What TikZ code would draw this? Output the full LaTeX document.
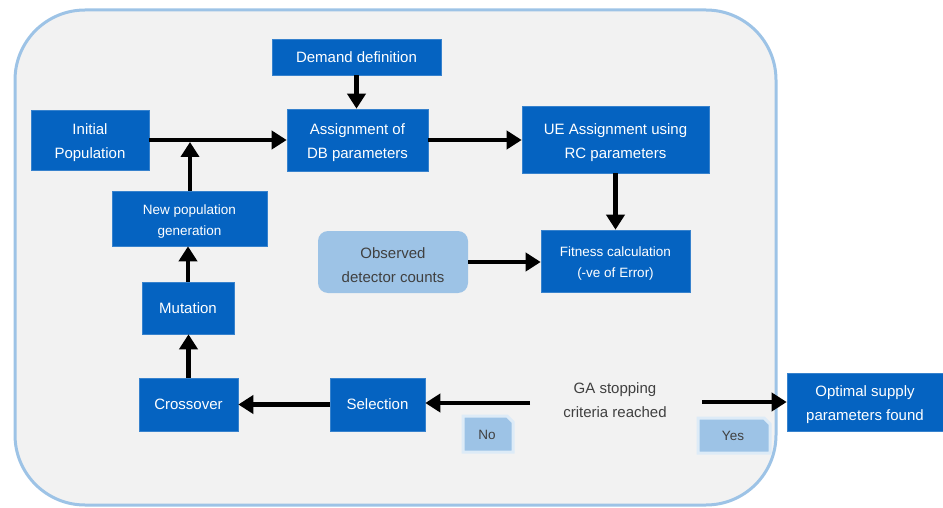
\documentclass[tikz,border=0pt]{standalone}
\usepackage{fontspec}
\setmainfont{Liberation Sans}
\usetikzlibrary{arrows.meta}
\definecolor{dblue}{HTML}{0563C1}
\definecolor{lblue}{HTML}{9DC3E6}
\definecolor{halo}{HTML}{DDEBF7}
\definecolor{bgfill}{HTML}{F2F2F2}
\definecolor{txtgray}{HTML}{404040}
\tikzset{
  x=1pt,y=-1pt,
  box/.style={fill=dblue, draw=dblue!80!white, line width=0.6pt, text=white, inner sep=0pt, align=center,
    font=\fontsize{15}{24}\selectfont},
  smallbox/.style={box, font=\fontsize{13.5}{21}\selectfont},
  lbox/.style={fill=lblue, rounded corners=10pt, text=txtgray, inner sep=0pt, align=center,
    font=\fontsize{15}{24}\selectfont},
  arr/.style={line width=4.5pt, -{Triangle[length=15pt,width=18pt]}},
}
\begin{document}
\begin{tikzpicture}
\useasboundingbox (0,0) rectangle (943,508);
% background container
\draw[fill=bgfill, draw=lblue, line width=3pt, rounded corners=70pt] (15,10) rectangle (776,505);

\node[box, minimum width=169pt, minimum height=36pt] (dem) at (356.5,57) {Demand definition};
\node[box, minimum width=118pt, minimum height=60pt] (init) at (90,140) {\rule{0pt}{17pt}Initial\\Population};
\node[box, minimum width=141pt, minimum height=62pt] (asg) at (357.5,140) {\rule{0pt}{17pt}Assignment of\\DB parameters};
\node[box, minimum width=187pt, minimum height=67pt] (ue) at (615.5,139.5) {\rule{0pt}{17pt}UE Assignment using\\RC parameters};
\node[smallbox, minimum width=155pt, minimum height=55pt] (newp) at (189.5,218.5) {\rule{0pt}{15pt}New population\\generation};
\node[lbox, minimum width=150pt, minimum height=62pt] (obs) at (393,262) {\rule{0pt}{17pt}Observed\\detector counts};
\node[smallbox, minimum width=149pt, minimum height=62pt] (fit) at (615.5,261) {\rule{0pt}{15pt}Fitness calculation\\(-ve of Error)};
\node[box, minimum width=92pt, minimum height=52pt] (mut) at (188,308) {Mutation};
\node[box, minimum width=99pt, minimum height=53pt] (cross) at (188.5,404.5) {Crossover};
\node[box, minimum width=95pt, minimum height=53pt] (sel) at (377.5,404.5) {Selection};
\node[text=txtgray, align=center, font=\fontsize{15}{24}\selectfont, inner sep=0pt] (ga) at (615,400) {GA stopping\\criteria reached};
\node[box, minimum width=156pt, minimum height=58pt] (opt) at (865,402) {\rule{0pt}{17pt}Optimal supply\\parameters found};

% No / Yes tags with snipped corner
\draw[fill=lblue, draw=halo, line width=3pt]
  (463,416) -- (507,416) -- (513,422) -- (513,452) -- (463,452) -- cycle;
\node[text=txtgray, font=\fontsize{13.5}{16}\selectfont] (no) at (487,435) {No};
\draw[fill=lblue, draw=halo, line width=3pt]
  (698,418) -- (764,418) -- (770,424) -- (770,453) -- (698,453) -- cycle;
\node[text=txtgray, font=\fontsize{13.5}{16}\selectfont] (yes) at (733,436) {Yes};

% connectors
\coordinate (j) at (190,142);
\draw[arr] (init.east) -- (asg.west);
\draw[arr] (newp.north -| j) -- (j);
\draw[arr] (dem.south) -- (asg.north -| dem.south);
\draw[arr] (asg.east) -- (ue.west |- asg.east);
\draw[arr] (ue.south -| fit.north) -- (fit.north);
\draw[arr] (obs.east) -- (fit.west |- obs.east);
\coordinate (gaL) at (530,403);
\coordinate (gaR) at (702,402);
\draw[arr] (gaL) -- (sel.east |- gaL);
\draw[arr] (sel.west) -- (cross.east);
\draw[arr] (cross.north) -- (mut.south -| cross.north);
\draw[arr] (mut.north) -- (newp.south -| mut.north);
\draw[arr] (gaR) -- (opt.west |- gaR);
\end{tikzpicture}
\end{document}
